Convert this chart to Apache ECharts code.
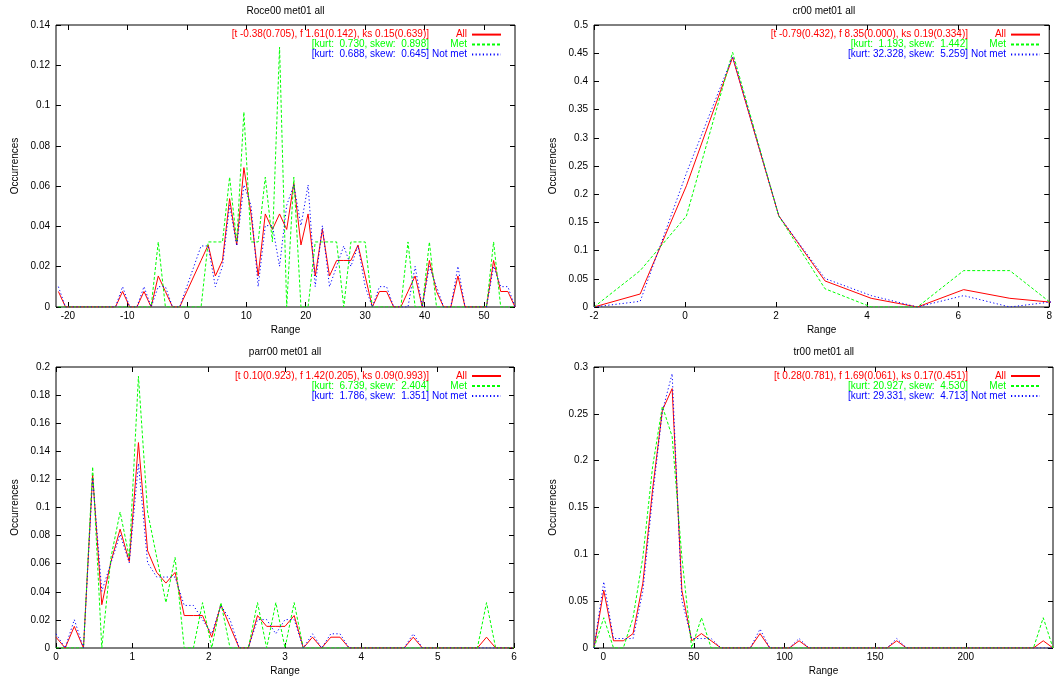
<!DOCTYPE html>
<html>
<head>
<meta charset="utf-8">
<script src="https://cdn.jsdelivr.net/npm/echarts@6/dist/echarts.min.js"></script>
<style>
html,body{margin:0;padding:0;background:#fff;}
#chart{width:1055px;height:681px;}
</style>
</head>
<body>
<div id="chart"></div>
<script>
// ---------- DATA ----------
const titles = ['Roce00 met01 all', 'cr00 met01 all', 'parr00 met01 all', 'tr00 met01 all'];
const seriesLabels = ['All', 'Met', 'Not met'];
const statsRoce = ['[t -0.38(0.705), f 1.61(0.142), ks 0.15(0.639)]', '[kurt:  0.730, skew:  0.898]', '[kurt:  0.688, skew:  0.645]'];
const statsCr = ['[t -0.79(0.432), f 8.35(0.000), ks 0.19(0.334)]', '[kurt:  1.193, skew:  1.442]', '[kurt: 32.328, skew:  5.259]'];
const statsParr = ['[t 0.10(0.923), f 1.42(0.205), ks 0.09(0.993)]', '[kurt:  6.739, skew:  2.404]', '[kurt:  1.786, skew:  1.351]'];
const statsTr = ['[t 0.28(0.781), f 1.69(0.061), ks 0.17(0.451)]', '[kurt: 20.927, skew:  4.530]', '[kurt: 29.331, skew:  4.713]'];

// Roce00
const roceX = [-21.6,-20.4,-19.2,-18,-16.8,-15.6,-14.4,-13.2,-12,-10.8,-9.6,-8.4,-7.2,-6,-4.8,-3.6,-2.4,-1.2,0,1.2,2.4,3.6,4.8,6,7.2,8.4,9.6,10.8,12,13.2,14.4,15.6,16.8,18,19.2,20.4,21.6,22.8,24,25.2,26.4,27.6,28.8,30,31.2,32.4,33.6,34.8,36,37.2,38.4,39.6,40.8,42,43.2,44.4,45.6,46.8,48,49.2,50.4,51.6,52.8,54,55.2];
const roceAll = [0.0077,0,0,0,0,0,0,0,0,0.0077,0,0,0.0077,0,0.0154,0.0077,0,0,0.0077,0.0154,0.0231,0.0308,0.0154,0.0231,0.0538,0.0308,0.0692,0.0462,0.0154,0.0462,0.0385,0.0462,0.0385,0.0615,0.0308,0.0462,0.0154,0.0385,0.0154,0.0231,0.0231,0.0231,0.0308,0.0154,0,0.0077,0.0077,0,0,0.0077,0.0154,0,0.0231,0.0077,0,0,0.0154,0,0,0,0,0.0231,0.0077,0.0077,0];
const roceMet = [0,0,0,0,0,0,0,0,0,0,0,0,0,0,0.0323,0,0,0,0,0,0,0.0323,0.0323,0.0323,0.0645,0.0323,0.0968,0.0323,0.0323,0.0645,0.0323,0.129,0,0.0645,0,0,0.0323,0.0323,0.0323,0.0323,0,0.0323,0.0323,0.0323,0,0,0,0,0,0.0323,0,0,0.0323,0,0,0,0,0,0,0,0,0.0323,0,0,0];
const roceNotMet = [0.0101,0,0,0,0,0,0,0,0,0.0101,0,0,0.0101,0,0.0101,0.0101,0,0,0.0101,0.0202,0.0303,0.0303,0.0101,0.0202,0.0505,0.0303,0.0606,0.0505,0.0101,0.0404,0.0404,0.0202,0.0505,0.0606,0.0404,0.0606,0.0101,0.0404,0.0101,0.0202,0.0303,0.0202,0.0303,0.0101,0,0.0101,0.0101,0,0,0,0.0202,0,0.0202,0.0101,0,0,0.0202,0,0,0,0,0.0202,0.0101,0.0101,0];

// cr00
const crX = [-2,-0.985,0.03,1.045,2.06,3.075,4.09,5.105,6.12,7.135,8.15];
const crAll = [0,0.0231,0.215,0.4426,0.1615,0.0462,0.0154,0,0.0308,0.0154,0.0077];
const crMet = [0,0.0645,0.1613,0.4516,0.1613,0.0323,0,0,0.0645,0.0645,0];
const crNotMet = [0,0.0101,0.2374,0.4444,0.1616,0.0505,0.0202,0,0.0202,0,0.0101];

// parr00
const parrX = [0,0.12,0.24,0.36,0.48,0.6,0.72,0.84,0.96,1.08,1.2,1.32,1.44,1.56,1.68,1.8,1.92,2.04,2.16,2.28,2.4,2.52,2.64,2.76,2.88,3,3.12,3.24,3.36,3.48,3.6,3.72,3.84,3.96,4.08,4.2,4.32,4.44,4.56,4.68,4.8,4.92,5.04,5.16,5.28,5.4,5.52,5.64,5.76,5.88,6];
const parrAll = [0.0077,0,0.0154,0,0.1231,0.0308,0.0615,0.0846,0.0615,0.1462,0.0692,0.0538,0.0462,0.0538,0.0231,0.0231,0.0231,0.0077,0.0308,0.0154,0,0,0.0231,0.0154,0.0154,0.0154,0.0231,0,0.0077,0,0.0077,0.0077,0,0,0,0,0,0,0,0.0077,0,0,0,0,0,0,0,0.0077,0,0,0];
const parrMet = [0,0,0,0,0.129,0,0.0645,0.0968,0.0645,0.1935,0.0968,0.0645,0.0323,0.0645,0,0,0.0323,0,0.0323,0,0,0,0.0323,0,0.0323,0,0.0323,0,0,0,0,0,0,0,0,0,0,0,0,0,0,0,0,0,0,0,0,0.0323,0,0,0];
const parrNotMet = [0.0101,0,0.0202,0,0.1212,0.0404,0.0606,0.0808,0.0606,0.1313,0.0606,0.0505,0.0505,0.0505,0.0303,0.0303,0.0202,0.0101,0.0303,0.0202,0,0,0.0202,0.0202,0.0101,0.0202,0.0202,0,0.0101,0,0.0101,0.0101,0,0,0,0,0,0,0,0.0101,0,0,0,0,0,0,0,0,0,0,0];

// tr00
const trX = [-5.1,0.29,5.67,11.06,16.45,21.84,27.22,32.61,38,43.38,48.77,54.16,59.54,64.93,70.32,75.71,81.09,86.48,91.87,97.25,102.64,108.03,113.41,118.8,124.19,129.58,134.96,140.35,145.74,151.12,156.51,161.9,167.28,172.67,178.06,183.45,188.83,194.22,199.61,204.99,210.38,215.77,221.15,226.54,231.93,237.32,242.7,248.09];
const trAll = [0,0.0615,0.0077,0.0077,0.0154,0.0692,0.1692,0.2538,0.2769,0.0615,0.0077,0.0154,0.0077,0,0,0,0,0.0154,0,0,0,0.0077,0,0,0,0,0,0,0,0,0,0.0077,0,0,0,0,0,0,0,0,0,0,0,0,0,0,0.0077,0];
const trMet = [0,0.0323,0,0,0.0323,0.0968,0.1935,0.2581,0.2258,0.0968,0,0.0323,0,0,0,0,0,0,0,0,0,0,0,0,0,0,0,0,0,0,0,0,0,0,0,0,0,0,0,0,0,0,0,0,0,0,0.0323,0];
const trNotMet = [0,0.0707,0.0101,0.0101,0.0101,0.0606,0.1616,0.2525,0.2929,0.0505,0.0101,0.0101,0.0101,0,0,0,0,0.0202,0,0,0,0.0101,0,0,0,0,0,0,0,0,0,0.0101,0,0,0,0,0,0,0,0,0,0,0,0,0,0,0,0];

// x tick values
const roceXTicks = [-20,-10,0,10,20,30,40,50];
const trXTicks = [0,50,100,150,200];

// ---------- STYLE / LAYOUT ----------
const FONT = '"Liberation Sans", Arial, Helvetica, sans-serif';
const COLORS = ['#ff0000', '#00ff00', '#0000ff'];
const DASH = ['solid', [3, 2], [1.2, 2.4]];

const panels = [
  {grid:{left:56, top:25, width:459, height:282}, xs:roceX, ys:[roceAll, roceMet, roceNotMet], stats:statsRoce,
   x:{min:-22, max:55.2, ticks:roceXTicks}, y:{min:0, max:0.14, interval:0.02},
   title:{x:285.5, y:11.7}, legend:{right:553, top:29.6}},
  {grid:{left:594, top:25, width:459, height:282}, xs:crX, ys:[crAll, crMet, crNotMet], stats:statsCr,
   x:{min:-2, max:8, interval:2}, y:{min:0, max:0.5, interval:0.05},
   title:{x:823.8, y:11.7}, legend:{right:14, top:29.6}},
  {grid:{left:56, top:367, width:458, height:281}, xs:parrX, ys:[parrAll, parrMet, parrNotMet], stats:statsParr,
   x:{min:0, max:6, interval:1}, y:{min:0, max:0.2, interval:0.02},
   title:{x:285, y:352.7}, legend:{right:553, top:371}},
  {grid:{left:594, top:367, width:459, height:281}, xs:trX, ys:[trAll, trMet, trNotMet], stats:statsTr,
   x:{min:-5.1, max:248.09, ticks:trXTicks}, y:{min:0, max:0.3, interval:0.05},
   title:{x:823.8, y:352.7}, legend:{right:14, top:371}}
];

const grids = [], xAxes = [], yAxes = [], series = [], legends = [], graphics = [];
const nameInfo = {};
const rich = {};
COLORS.forEach((c, j) => {
  rich['s' + j] = {width: 232, align: 'right', color: c, fontSize: 10, fontFamily: FONT, lineHeight: 9.3};
  rich['l' + j] = {width: 38, align: 'right', color: c, fontSize: 10, fontFamily: FONT, lineHeight: 9.3};
});

const tickStyle = {show: true, inside: true, length: 5, lineStyle: {color: '#000', width: 1}};
const labelStyle = {color: '#000', fontSize: 10, fontFamily: FONT};
const noLine = {show: false, onZero: false};

panels.forEach((p, pi) => {
  grids.push(Object.assign({show: true, borderColor: '#000', borderWidth: 1, backgroundColor: 'transparent'}, p.grid));
  const xBase = {type: 'value', gridIndex: pi, min: p.x.min, max: p.x.max, splitLine: {show: false},
    axisLine: noLine};
  if (p.x.interval) xBase.interval = p.x.interval;
  const xb = Object.assign({}, xBase, {
    position: 'bottom', name: 'Range', nameLocation: 'middle', nameGap: 18,
    nameTextStyle: labelStyle,
    axisTick: Object.assign({}, tickStyle, p.x.ticks ? {customValues: p.x.ticks} : {}),
    axisLabel: Object.assign({margin: 4, showMinLabel: true, showMaxLabel: true}, labelStyle, p.x.ticks ? {customValues: p.x.ticks} : {})
  });
  const xt = Object.assign({}, xBase, {
    position: 'top',
    axisTick: Object.assign({}, tickStyle, p.x.ticks ? {customValues: p.x.ticks} : {}),
    axisLabel: {show: false}
  });
  xAxes.push(xb, xt);
  const yBase = {type: 'value', gridIndex: pi, min: p.y.min, max: p.y.max, interval: p.y.interval,
    splitLine: {show: false}, axisLine: noLine, axisTick: tickStyle};
  yAxes.push(Object.assign({}, yBase, {
    position: 'left', name: 'Occurrences', nameLocation: 'middle', nameRotate: 90, nameGap: 36,
    nameTextStyle: labelStyle,
    axisLabel: Object.assign({margin: 6, showMinLabel: true, showMaxLabel: true}, labelStyle)
  }));
  yAxes.push(Object.assign({}, yBase, {position: 'right', axisLabel: {show: false}}));

  const names = [];
  p.ys.forEach((ys, j) => {
    const nm = p.stats[j] + ' ' + seriesLabels[j];
    names.push(nm);
    nameInfo[nm] = {stats: p.stats[j], label: seriesLabels[j], j: j};
    series.push({
      type: 'line', name: nm, xAxisIndex: 2 * pi, yAxisIndex: 2 * pi,
      data: p.xs.map((x, i) => [x, ys[i]]),
      symbol: 'none', showSymbol: false, clip: true, smooth: false,
      lineStyle: {color: COLORS[j], width: 1, type: DASH[j]},
      itemStyle: {color: COLORS[j]},
      emphasis: {disabled: true}, silent: true, animation: false
    });
  });
  legends.push({
    orient: 'vertical', right: p.legend.right, top: p.legend.top, padding: 0, itemGap: 0,
    itemWidth: 29, itemHeight: 9, align: 'right', selectedMode: false,
    itemStyle: {color: 'rgba(0,0,0,0)', borderColor: 'rgba(0,0,0,0)', borderWidth: 0},
    data: names.map((n, j) => ({name: n, textStyle: {color: COLORS[j]}})),
    formatter: function (name) {
      const inf = nameInfo[name];
      return '{s' + inf.j + '|' + inf.stats + '}{l' + inf.j + '|' + inf.label + '}';
    },
    textStyle: {fontSize: 10, fontFamily: FONT, lineHeight: 9.3, rich: rich}
  });
  graphics.push({
    type: 'text', x: p.title.x, y: p.title.y, silent: true,
    style: {text: titles[pi], fill: '#000', font: '10px ' + FONT, textAlign: 'center', textVerticalAlign: 'middle'}
  });
});

const chart = echarts.init(document.getElementById('chart'), null, {renderer: 'canvas'});
chart.setOption({
  animation: false,
  backgroundColor: '#fff',
  grid: grids,
  xAxis: xAxes,
  yAxis: yAxes,
  legend: legends,
  series: series,
  graphic: graphics
});
</script>
</body>
</html>
